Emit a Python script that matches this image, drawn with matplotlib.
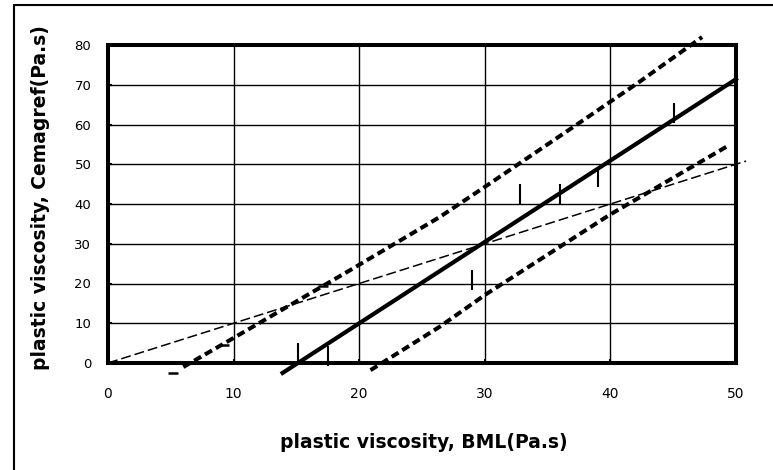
import matplotlib
matplotlib.use("Agg")
import matplotlib.pyplot as plt
from matplotlib.patches import Rectangle

plt.rcParams['font.family'] = ['DejaVu Sans']

# readings from the picture (BML vs Cemagref plastic viscosity)
fit_x = [13.9, 50.0]
fit_y = [-2.5, 71.4]

upper_x = [6.0, 10.0, 19.3, 26.4, 30.0, 37.8, 42.3, 47.3]
upper_y = [-1.0, 6.3, 23.4, 36.7, 44.3, 61.0, 70.7, 82.0]

lower_x = [20.9, 26.4, 30.0, 39.9, 49.4]
lower_y = [-1.8, 9.1, 17.1, 37.2, 54.7]

equal_x = [0.0, 50.8]
equal_y = [0.0, 50.8]

pts_v_x = [15.1, 17.5, 29.0, 32.8, 36.0, 39.0, 45.1]
pts_v_y = [2.4, 1.8, 21.0, 42.5, 42.5, 46.7, 62.9]

pts_h_x = [5.2, 9.2, 17.1]
pts_h_y = [-2.5, 4.5, 19.4]

xticks = [0, 10, 20, 30, 40, 50]
yticks = [0, 10, 20, 30, 40, 50, 60, 70, 80]

W, H = 773, 470
fig = plt.figure(figsize=(W / 100, H / 100), dpi=100)
ax = fig.add_axes([108 / W, 1 - 363 / H, 628 / W, 318 / H])

ax.set_xlim(0, 50)
ax.set_ylim(0, 80)
ax.set_xticks(xticks)
ax.set_yticks(yticks)
ax.grid(True, color='black', linewidth=1.0)
ax.set_axisbelow(True)
for s in ax.spines.values():
    s.set_linewidth(2.9)
ax.tick_params(direction='in', length=3, width=1.5)
ax.tick_params(axis='x', pad=17, labelsize=10)
ax.tick_params(axis='y', pad=12, labelsize=9.5)

ax.plot(equal_x, equal_y, color='black', linewidth=1.1,
        dashes=(6.5, 2.6), clip_on=False)
ax.plot(upper_x, upper_y, color='black', linewidth=2.9,
        dashes=(2.0, 1.1), dash_capstyle='butt', clip_on=False)
ax.plot(lower_x, lower_y, color='black', linewidth=2.9,
        dashes=(2.0, 1.1), dash_capstyle='butt', clip_on=False)
ax.plot(fit_x, fit_y, color='black', linewidth=3.0, clip_on=False)

ax.plot(pts_v_x, pts_v_y, linestyle='none', marker='|', markersize=15,
        markeredgewidth=1.5, color='black', clip_on=False)
ax.plot(pts_h_x, pts_h_y, linestyle='none', marker='_', markersize=7,
        markeredgewidth=1.8, color='black', clip_on=False)

fig.text(424 / W, 1 - 442 / H, 'plastic viscosity, BML(Pa.s)',
         ha='center', va='center', fontsize=13.5, fontweight='bold')
fig.text(41 / W, 1 - 198 / H, 'plastic viscosity, Cemagref(Pa.s)',
         ha='center', va='center', rotation=90, fontsize=13.5, fontweight='bold')

# outer frame (cropped on the right and bottom)
fig.patches.append(Rectangle((14 / W, -0.05), 1.0, 1.05 - 5 / H,
                             transform=fig.transFigure, fill=False,
                             edgecolor='black', linewidth=1.5))

fig.savefig('out.png', dpi=100)
